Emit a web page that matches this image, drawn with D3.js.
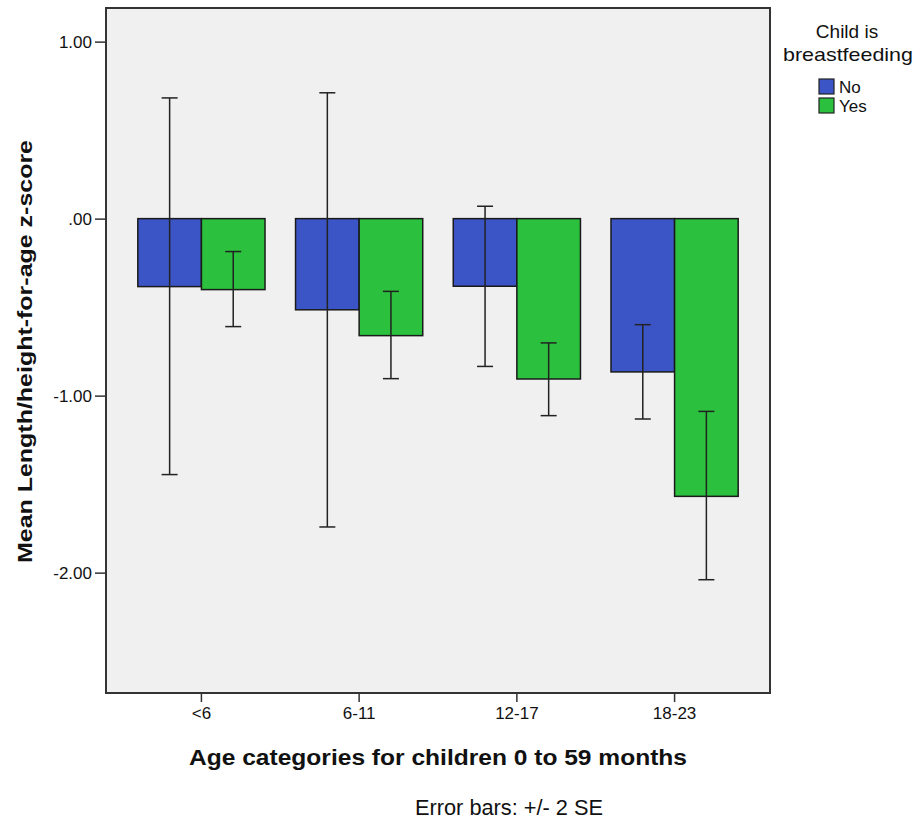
<!DOCTYPE html>
<html>
<head>
<meta charset="utf-8">
<script src="https://cdn.jsdelivr.net/npm/d3@7"></script>
<style>
    body { margin: 0; background: #fff; }
    text { font-family: "Liberation Sans", Arial, sans-serif; fill: #111; }
</style>
</head>
<body>
<svg id="chart" width="915" height="824"></svg>
<script>
// values
var categories = ['<6', '6-11', '12-17', '18-23'];
var groups = ['No', 'Yes'];
var meanNo = [-0.384, -0.515, -0.382, -0.866];
var meanYes = [-0.401, -0.661, -0.906, -1.569];
var lowNo = [-1.446, -1.742, -0.835, -1.132];
var highNo = [0.682, 0.711, 0.070, -0.599];
var lowYes = [-0.610, -0.904, -1.113, -2.040];
var highYes = [-0.186, -0.411, -0.702, -1.089];
var yTicks = [1, 0, -1, -2];

var COLORS = { No: '#3c55c6', Yes: '#2bc03d' };

var svg = d3.select('#chart');
var plot = { left: 106, right: 770, top: 8, bottom: 693 };

var x = d3.scaleBand()
    .domain(categories)
    .range([plot.left, plot.right])
    .paddingInner(0)
    .paddingOuter(0.105);

var xs = d3.scaleBand()
    .domain(groups)
    .range([0, x.bandwidth()])
    .paddingInner(0)
    .paddingOuter(0.24);

var y = d3.scaleLinear()
    .domain([-2.68, 1.19])
    .range([plot.bottom, plot.top]);

// plot background
svg.append('rect')
    .attr('x', plot.left)
    .attr('y', plot.top)
    .attr('width', plot.right - plot.left)
    .attr('height', plot.bottom - plot.top)
    .attr('fill', '#f0f0f0');

var rows = [];
categories.forEach(function (c, i) {
    rows.push({ cat: c, grp: 'No', mean: meanNo[i], lo: lowNo[i], hi: highNo[i] });
    rows.push({ cat: c, grp: 'Yes', mean: meanYes[i], lo: lowYes[i], hi: highYes[i] });
});

svg.selectAll('.bar')
    .data(rows)
    .enter().append('rect')
    .attr('class', 'bar')
    .attr('x', function (d) { return x(d.cat) + xs(d.grp); })
    .attr('y', function (d) { return y(Math.max(0, d.mean)); })
    .attr('width', xs.bandwidth())
    .attr('height', function (d) { return Math.abs(y(d.mean) - y(0)); })
    .attr('fill', function (d) { return COLORS[d.grp]; })
    .attr('stroke', '#1a1a1a')
    .attr('stroke-width', 1.5);

// error bars
var capW = 16;
var eb = svg.selectAll('.err')
    .data(rows)
    .enter().append('g')
    .attr('class', 'err')
    .attr('stroke', '#222')
    .attr('stroke-width', 1.5)
    .attr('transform', function (d) {
        return 'translate(' + (x(d.cat) + xs(d.grp) + xs.bandwidth() / 2) + ',0)';
    });
eb.append('line')
    .attr('x1', 0).attr('x2', 0)
    .attr('y1', function (d) { return y(d.hi); })
    .attr('y2', function (d) { return y(d.lo); });
eb.append('line')
    .attr('x1', -capW / 2).attr('x2', capW / 2)
    .attr('y1', function (d) { return y(d.hi); })
    .attr('y2', function (d) { return y(d.hi); });
eb.append('line')
    .attr('x1', -capW / 2).attr('x2', capW / 2)
    .attr('y1', function (d) { return y(d.lo); })
    .attr('y2', function (d) { return y(d.lo); });

// frame
svg.append('rect')
    .attr('x', plot.left)
    .attr('y', plot.top)
    .attr('width', plot.right - plot.left)
    .attr('height', plot.bottom - plot.top)
    .attr('fill', 'none')
    .attr('stroke', '#333')
    .attr('stroke-width', 2);

// axes
var yAxis = svg.append('g')
    .attr('transform', 'translate(' + plot.left + ',0)')
    .call(d3.axisLeft(y)
        .tickValues(yTicks)
        .tickSize(11)
        .tickPadding(3)
        .tickFormat(function (d) {
            return d === 0 ? '.00' : d.toFixed(2);
        }));
yAxis.select('.domain').remove();
yAxis.selectAll('line').attr('stroke', '#333').attr('stroke-width', 1.5);
yAxis.selectAll('text')
    .style('font-family', '"Liberation Sans", Arial, sans-serif')
    .style('font-size', '17px')
    .attr('fill', '#222');

var xAxis = svg.append('g')
    .attr('transform', 'translate(0,' + plot.bottom + ')')
    .call(d3.axisBottom(x).tickSize(9).tickPadding(5));
xAxis.select('.domain').remove();
xAxis.selectAll('line').attr('stroke', '#333').attr('stroke-width', 1.5);
xAxis.selectAll('text')
    .style('font-family', '"Liberation Sans", Arial, sans-serif')
    .style('font-size', '17px')
    .attr('fill', '#222');

// titles
svg.append('text')
    .attr('x', 438)
    .attr('y', 765)
    .attr('text-anchor', 'middle')
    .attr('font-weight', 'bold')
    .attr('font-size', 22)
    .attr('textLength', 498)
    .attr('lengthAdjust', 'spacingAndGlyphs')
    .text('Age categories for children 0 to 59 months');

svg.append('text')
    .attr('transform', 'translate(32,351.5) rotate(-90)')
    .attr('text-anchor', 'middle')
    .attr('font-weight', 'bold')
    .attr('font-size', 20)
    .attr('textLength', 423)
    .attr('lengthAdjust', 'spacingAndGlyphs')
    .text('Mean Length/height-for-age z-score');

svg.append('text')
    .attr('x', 509)
    .attr('y', 815)
    .attr('text-anchor', 'middle')
    .attr('font-size', 22)
    .attr('textLength', 188)
    .attr('lengthAdjust', 'spacingAndGlyphs')
    .text('Error bars: +/- 2 SE');

// legend
var legend = svg.append('g');
legend.append('text')
    .attr('x', 847).attr('y', 38)
    .attr('text-anchor', 'middle')
    .attr('font-size', 19)
    .text('Child is');
legend.append('text')
    .attr('x', 848).attr('y', 61)
    .attr('text-anchor', 'middle')
    .attr('font-size', 19)
    .attr('textLength', 130)
    .attr('lengthAdjust', 'spacingAndGlyphs')
    .text('breastfeeding');

var item = legend.selectAll('.item')
    .data(groups)
    .enter().append('g')
    .attr('class', 'item')
    .attr('transform', function (d, i) { return 'translate(819,' + (79 + i * 19) + ')'; });
item.append('rect')
    .attr('width', 15).attr('height', 15)
    .attr('fill', function (d) { return COLORS[d]; })
    .attr('stroke', '#222')
    .attr('stroke-width', 1.2);
item.append('text')
    .attr('x', 20).attr('y', 14)
    .attr('font-size', 17)
    .text(function (d) { return d; });
</script>
</body>
</html>
